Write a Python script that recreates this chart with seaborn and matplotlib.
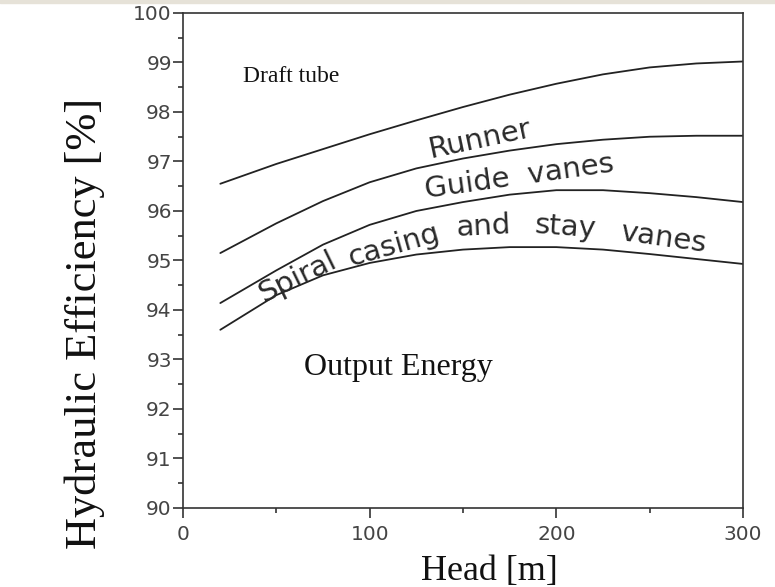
import matplotlib
matplotlib.use("Agg")
import matplotlib.pyplot as plt
import seaborn as sns
import pandas as pd
from matplotlib.patches import Rectangle
from matplotlib.ticker import MultipleLocator

# values
head = [20, 50, 75, 100, 125, 150, 175, 200, 225, 250, 275, 300]
runner = [96.55, 96.95, 97.25, 97.55, 97.83, 98.1, 98.35, 98.57, 98.76, 98.9, 98.98, 99.02]
guide_vanes = [95.15, 95.75, 96.2, 96.58, 96.86, 97.06, 97.22, 97.35, 97.44, 97.5, 97.52, 97.52]
spiral_casing = [94.14, 94.8, 95.32, 95.72, 96.0, 96.18, 96.33, 96.42, 96.42, 96.36, 96.28, 96.18]
output_energy = [93.6, 94.3, 94.7, 94.95, 95.12, 95.22, 95.27, 95.27, 95.22, 95.13, 95.03, 94.93]

x_ticks = [0, 100, 200, 300]
y_ticks = [90, 91, 92, 93, 94, 95, 96, 97, 98, 99, 100]

sns.set_theme(style="ticks")
plt.rcParams['font.family'] = ['DejaVu Sans']

fig = plt.figure(figsize=(7.75, 5.87), dpi=100)
fig.patches.append(Rectangle((0, 0.995), 1, 0.005, transform=fig.transFigure,
                             color='#e6e2d8', zorder=0))
ax = fig.add_axes([0.2361, 0.1346, 0.7226, 0.8433])

line_color = '#222222'
for vals in [runner, guide_vanes, spiral_casing, output_energy]:
    sns.lineplot(x=head, y=vals, color=line_color, linewidth=1.3, ax=ax)

ax.set_xlim(0, 300)
ax.set_ylim(90, 100)
ax.set_xticks(x_ticks)
ax.set_yticks(y_ticks)
ax.xaxis.set_minor_locator(MultipleLocator(50))
ax.yaxis.set_minor_locator(MultipleLocator(0.5))

for side in ['left', 'bottom', 'right', 'top']:
    ax.spines[side].set_visible(True)
    ax.spines[side].set_color('#333333')
    ax.spines[side].set_linewidth(1.2)

ax.tick_params(axis='both', which='major', length=7, width=1.2, color='#333333',
               labelsize=14.5, labelcolor='#444444', pad=1)
ax.tick_params(axis='both', which='minor', length=3.5, width=1.2, color='#333333')
ax.tick_params(axis='x', which='major', pad=5)
ax.tick_params(right=False, top=False, which='both')

serif = ['Liberation Serif', 'DejaVu Serif']
ax.set_xlabel('Head [m]', fontsize=26, family=serif, color='#111111')
ax.set_ylabel('Hydraulic Efficiency [%]', fontsize=32, family=serif, color='#111111')
ax.xaxis.set_label_coords(0.548, -0.095)
ax.yaxis.set_label_coords(-0.14, 0.372)

ax.text(32, 98.72, 'Draft tube', fontsize=17, family=serif, color='#111111',
        ha='left', va='center')
ax.text(65, 92.83, 'Output Energy', fontsize=23, family=serif, color='#111111',
        ha='left', va='center')

label_kw = dict(fontsize=21, color='#2a2a2a',
                ha='center', va='center', rotation_mode='anchor')
ax.text(159, 97.45, 'Runner', rotation=12, **label_kw)
ax.text(180, 96.7, 'Guide  vanes', rotation=8, **label_kw)
ax.text(61, 94.66, 'Spiral', rotation=26, **label_kw)
ax.text(113, 95.3, 'casing', rotation=16, **label_kw)
ax.text(161, 95.68, 'and', rotation=3, **label_kw)
ax.text(205, 95.68, 'stay', rotation=-4, **label_kw)
ax.text(257, 95.46, 'vanes', rotation=-8, **label_kw)

fig.savefig('out.png', dpi=100)
